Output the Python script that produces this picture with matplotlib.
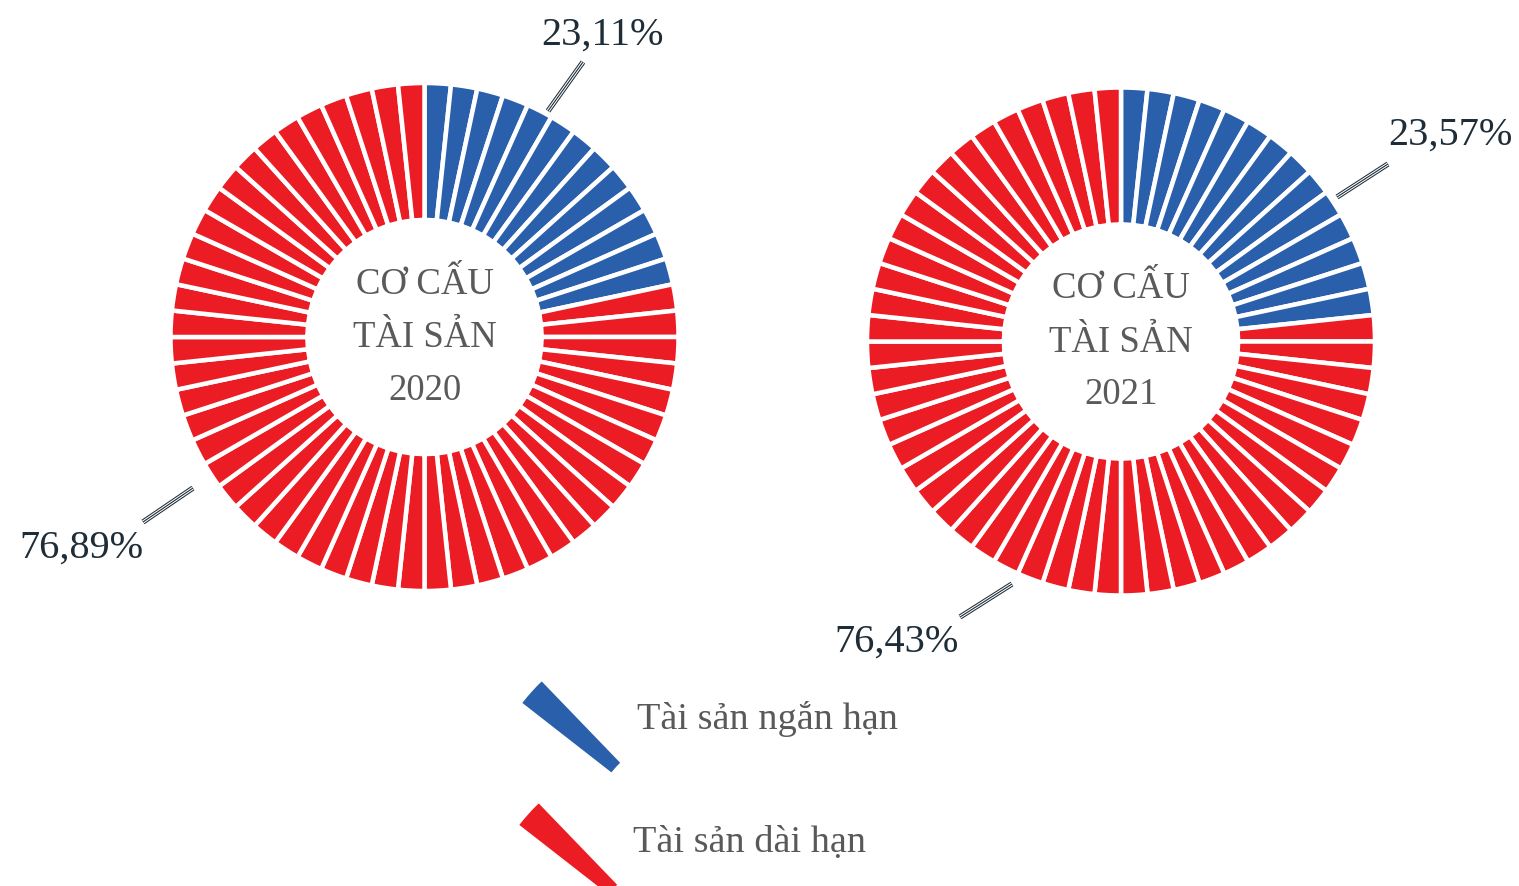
import numpy as np
import matplotlib
matplotlib.use('Agg')
import matplotlib.pyplot as plt
from matplotlib.patches import Wedge

# 1. Data
years = ['2020', '2021']
short_term_pct = [23.11, 23.57]   # Tài sản ngắn hạn
long_term_pct = [76.89, 76.43]    # Tài sản dài hạn
n_segments = 60
short_term_segments = [13, 14]    # blue bars on each ring

legend_labels = ['Tài sản ngắn hạn', 'Tài sản dài hạn']

# 2. Styling / layout (pixel coordinates, y going down)
blue = '#2A5FAB'
red = '#EC1C24'
center_text_color = '#5A5A5A'
label_color = '#1E2D38'
legend_text_color = '#595959'
font = ['Liberation Serif', 'DejaVu Serif']

centers = [(424.5, 338), (1121, 342.5)]
r_outer = 254
r_inner = 117
gap_px = 4.5

# leader lines and value labels for each ring: (start, end), text position
short_leaders = [((548, 112), (583, 63)), ((1337, 198), (1388, 165))]
short_label_pos = [(603, 45), (1450, 145)]
long_leaders = [((193, 489), (143, 523)), ((1012, 585), (960, 618))]
long_label_pos = [(81, 558), (897, 652)]


def fmt(v):
    return f"{v:.2f}".replace('.', ',') + '%'


def leader(ax, p0, p1):
    xs = [p0[0], p1[0]]
    ys = [p0[1], p1[1]]
    ax.plot(xs, ys, color=label_color, lw=3.8, solid_capstyle='butt', zorder=5)
    ax.plot(xs, ys, color='white', lw=2.3, solid_capstyle='butt', zorder=6)
    ax.plot(xs, ys, color=label_color, lw=0.8, solid_capstyle='butt', zorder=7)


# 3. Figure
fig = plt.figure(figsize=(15.19, 8.87), dpi=100)
ax = fig.add_axes([0, 0, 1, 1])
ax.set_xlim(0, 1519)
ax.set_ylim(887, 0)
ax.set_aspect('equal')
ax.axis('off')

step = 360 / n_segments
lw_pt = gap_px * 72 / 100

for i, (cx, cy) in enumerate(centers):
    for k in range(n_segments):
        # start at 12 o'clock, go clockwise (y axis is inverted)
        t1 = -90 + k * step
        t2 = t1 + step
        color = blue if k < short_term_segments[i] else red
        ax.add_patch(Wedge((cx, cy), r_outer, t1, t2, width=r_outer - r_inner,
                           facecolor=color, edgecolor='white', linewidth=lw_pt))

    # centre title
    ax.text(cx, cy - 44, 'CƠ CẤU', ha='center', va='baseline', fontsize=26.5,
            color=center_text_color, family=font)
    ax.text(cx, cy + 9.5, 'TÀI SẢN', ha='center', va='baseline', fontsize=26.5,
            color=center_text_color, family=font)
    ax.text(cx, cy + 62, years[i], ha='center', va='baseline', fontsize=26.5,
            color=center_text_color, family=font)

    # value labels
    leader(ax, *short_leaders[i])
    leader(ax, *long_leaders[i])
    ax.text(*short_label_pos[i], fmt(short_term_pct[i]), ha='center', va='baseline',
            fontsize=29, color=label_color, family=font)
    ax.text(*long_label_pos[i], fmt(long_term_pct[i]), ha='center', va='baseline',
            fontsize=29, color=label_color, family=font)

# 4. Legend: one ring segment as the key marker
legend_wedges = [(684, 830), (681, 952)]
legend_text_pos = [(637, 729), (633, 852)]
for (cx, cy), (tx, ty), color, lab in zip(legend_wedges, legend_text_pos, [blue, red], legend_labels):
    ax.add_patch(Wedge((cx, cy), 205, 222 - 4.05, 222 + 4.05, width=113,
                       facecolor=color, edgecolor='none'))
    ax.text(tx, ty, lab, ha='left', va='baseline', fontsize=27.5,
            color=legend_text_color, family=font)

fig.savefig('out.png', dpi=100, facecolor='white')
